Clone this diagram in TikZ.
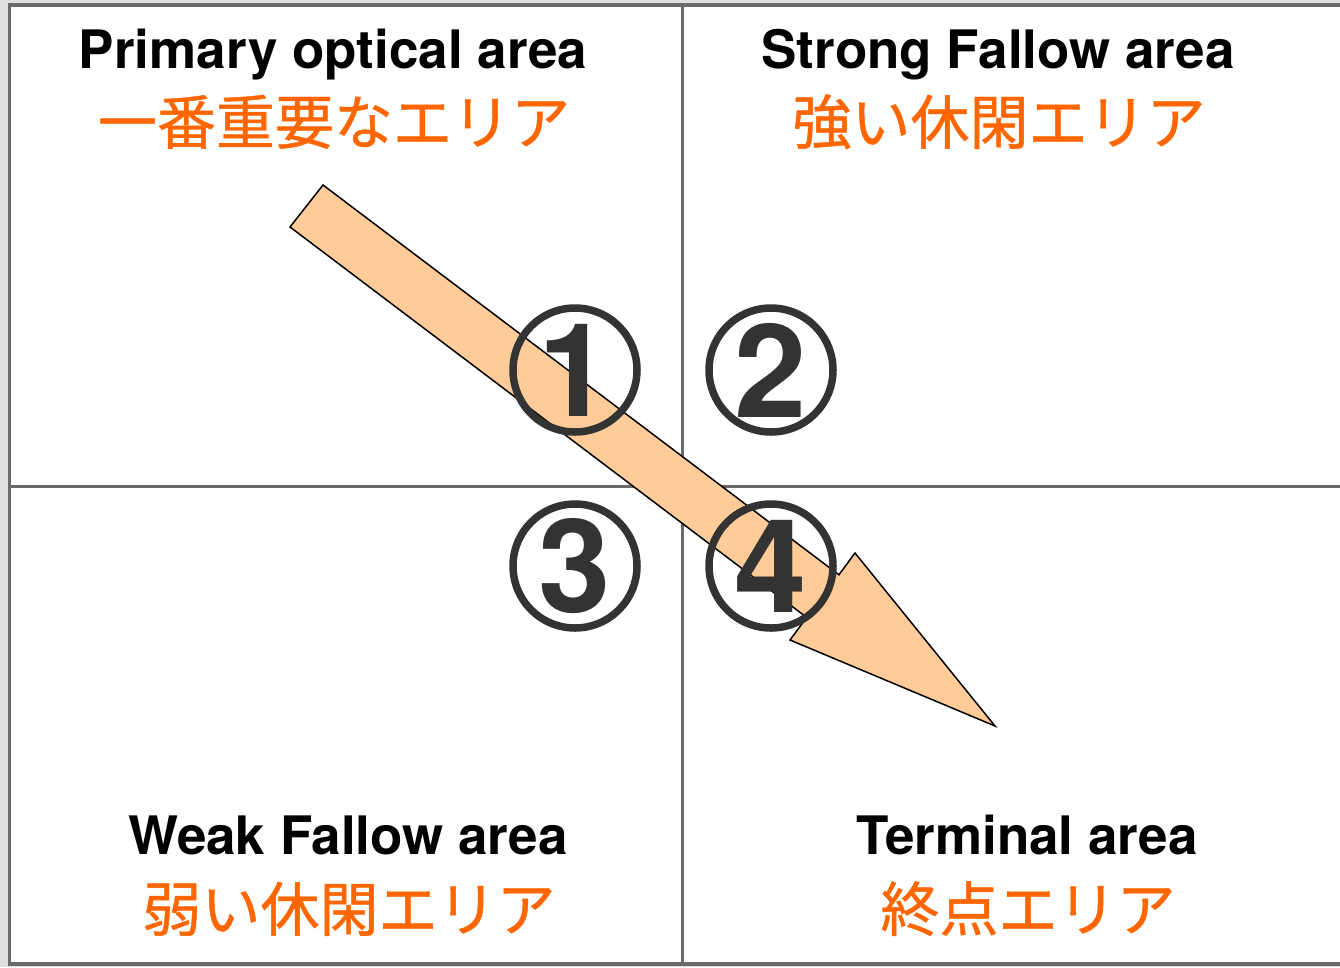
\documentclass[tikz,border=0pt]{standalone}
\usepackage{fontspec}
\setmainfont{TeX Gyre Heros}
\newfontfamily\jpfont[FakeBold=0.8]{Noto Sans CJK JP}
\definecolor{framegray}{HTML}{6A6A6A}
\definecolor{numgray}{HTML}{333333}
\definecolor{peach}{HTML}{FFCC99}
\definecolor{jporange}{HTML}{FF6600}
\begin{document}
\begin{tikzpicture}[x=1pt,y=-1pt,
		entitle/.style={anchor=base, font=\fontsize{53}{60}\selectfont\bfseries},
		jptitle/.style={anchor=base, text=jporange, font=\fontsize{59}{65}\selectfont\jpfont},
		numcircle/.style={circle, draw=numgray, line width=7.5, minimum size=124, inner sep=0pt,
			text=numgray, font=\fontsize{130}{130}\selectfont\bfseries}]
		\useasboundingbox (0,0) rectangle (1340,967);
		\fill[black!12] (0,0) rectangle (1340,967);
		%felder
		\filldraw[fill=white, draw=framegray, line width=3.5] (9.5,5) rectangle (1352,964);
		\draw[framegray, line width=3] (682,5) -- (682,964);
		\draw[framegray, line width=3] (9.5,486) -- (1352,486);
		%pfeil
		\filldraw[fill=peach, draw=black, line width=1.5, line join=miter]
			(323,185) -- (838.9,574.8) -- (855,553) -- (995,726) -- (790,640) -- (806.7,617.4) -- (290,227) -- cycle;
		%nummern
		\node[numcircle] (n1) at (575,370) {1};
		\node[numcircle] (n2) at (771,370) {2};
		\node[numcircle] (n3) at (575,566) {3};
		\node[numcircle] (n4) at (771,566) {4};
		%texte
		\node[entitle] (primary) at (333,68) {Primary optical area};
		\node[jptitle] (primaryjp) at (334,144) {一番重要なエリア};
		\node[entitle] (strong) at (998,68) {Strong Fallow area};
		\node[jptitle] (strongjp) at (999,144) {強い休閑エリア};
		\node[entitle] (weak) at (348,854) {Weak Fallow area};
		\node[jptitle] (weakjp) at (349,931) {弱い休閑エリア};
		\node[entitle] (terminal) at (1027,854) {Terminal area};
		\node[jptitle] (terminaljp) at (1028,931) {終点エリア};
	\end{tikzpicture}
\end{document}
